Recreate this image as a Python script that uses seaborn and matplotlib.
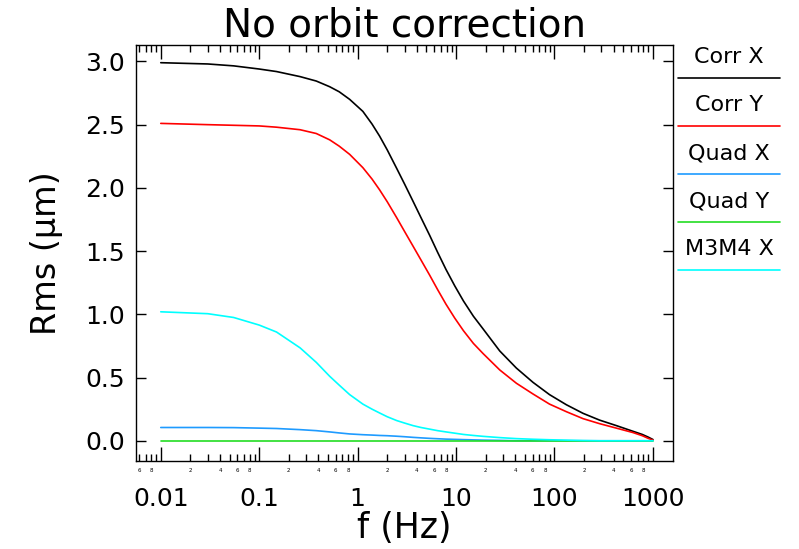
import numpy as np
import pandas as pd
import seaborn as sns
import matplotlib
matplotlib.use("Agg")
import matplotlib.pyplot as plt
from matplotlib.lines import Line2D
from matplotlib.ticker import LogLocator, FuncFormatter, FixedLocator

# ---- data ----
freq = [0.01, 0.03, 0.055, 0.1, 0.15, 0.26, 0.38, 0.52, 0.65, 0.83, 1.13, 1.4, 1.67, 2.0,
        2.49, 3.0, 3.65, 4.4, 5.39, 6.5, 7.9, 9.7, 11.9, 15, 18.8, 27.8, 41, 60.5, 89, 132,
        195, 288, 425, 627, 780, 890, 1000]
corr_x = [2.99, 2.98, 2.965, 2.94, 2.92, 2.88, 2.845, 2.80, 2.76, 2.70, 2.605, 2.505, 2.41,
          2.30, 2.155, 2.03, 1.895, 1.765, 1.625, 1.49, 1.355, 1.225, 1.105, 0.985, 0.885,
          0.71, 0.575, 0.462, 0.365, 0.285, 0.217, 0.163, 0.12, 0.075, 0.05, 0.03, 0.01]
corr_y = [2.51, 2.50, 2.495, 2.49, 2.48, 2.46, 2.43, 2.38, 2.33, 2.265, 2.16, 2.07, 1.985,
          1.89, 1.765, 1.655, 1.54, 1.43, 1.31, 1.195, 1.08, 0.97, 0.87, 0.77, 0.69, 0.56,
          0.455, 0.37, 0.29, 0.23, 0.175, 0.135, 0.10, 0.065, 0.04, 0.02, 0.005]
quad_x = [0.105, 0.105, 0.104, 0.10, 0.097, 0.088, 0.08, 0.07, 0.062, 0.054, 0.048, 0.045,
          0.042, 0.04, 0.036, 0.032, 0.027, 0.023, 0.019, 0.016, 0.013, 0.011, 0.009, 0.007,
          0.005, 0.003, 0.0, 0.0, 0.0, 0.0, 0.0, 0.0, 0.0, 0.0, 0.0, 0.0, 0.0]
quad_y = [0.0] * len(freq)
m3m4_x = [1.02, 1.005, 0.975, 0.915, 0.86, 0.735, 0.62, 0.51, 0.44, 0.365, 0.29, 0.25, 0.22,
          0.19, 0.16, 0.14, 0.12, 0.105, 0.092, 0.08, 0.07, 0.06, 0.05, 0.042, 0.035, 0.025,
          0.017, 0.012, 0.008, 0.005, 0.002, 0.0, 0.0, 0.0, 0.0, 0.0, 0.0]

series_names = ["Corr X", "Corr Y", "Quad X", "Quad Y", "M3M4 X"]
series_vals = [corr_x, corr_y, quad_x, quad_y, m3m4_x]
colors = ["#000000", "#ff0000", "#1e9bff", "#22dd22", "#00ffff"]

x_major = [0.01, 0.1, 1, 10, 100, 1000]
x_major_labels = ["0.01", "0.1", "1", "10", "100", "1000"]
y_ticks = [0.0, 0.5, 1.0, 1.5, 2.0, 2.5, 3.0]

df = pd.concat([pd.DataFrame({"f": freq, "rms": v, "series": n})
                for n, v in zip(series_names, series_vals)], ignore_index=True)

sns.set_style("white")
plt.rcParams["font.family"] = ["DejaVu Sans"]

fig = plt.figure(figsize=(7.99, 5.49), dpi=100)
ax = fig.add_axes([136 / 799, 1 - 461 / 549, (673 - 136) / 799, (461 - 45) / 549])

sns.lineplot(data=df, x="f", y="rms", hue="series", hue_order=series_names,
             palette=colors, legend=False, ax=ax, linewidth=1.2, estimator=None, sort=False)

ax.set_xscale("log")
ax.set_xlim(0.0056, 1600)
ax.set_ylim(-0.16, 3.13)

ax.xaxis.set_major_locator(FixedLocator(x_major))
ax.set_xticklabels(x_major_labels)
ax.xaxis.set_minor_locator(LogLocator(base=10, subs=np.arange(2, 10), numticks=20))


def minor_fmt(v, pos):
    m = v / 10 ** np.floor(np.log10(v) + 1e-9)
    m = int(round(m))
    return str(m) if m in (2, 4, 6, 8) else ""


ax.xaxis.set_minor_formatter(FuncFormatter(minor_fmt))
ax.set_yticks(y_ticks)
ax.set_yticklabels([f"{t:.1f}" for t in y_ticks])

for s in ax.spines.values():
    s.set_color("black")
    s.set_linewidth(1.0)

ax.tick_params(axis="x", which="major", direction="in", length=10, width=1,
               top=True, bottom=True, labelsize=18, pad=19, colors="black")
ax.tick_params(axis="x", which="minor", direction="in", length=5, width=1,
               top=True, bottom=True, labelsize=4, pad=5, colors="black")
ax.tick_params(axis="y", which="major", direction="in", length=7, width=1,
               left=True, right=True, labelsize=18, pad=8, colors="black")

ax.set_title("No orbit correction", fontsize=28, pad=4, color="black")
ax.set_xlabel("f (Hz)", fontsize=25, labelpad=0, color="black")
ax.set_ylabel("Rms (\u03bcm)", fontsize=24, labelpad=16, color="black")

# legend: label above coloured line, right of the plot
for i, (n, c) in enumerate(zip(series_names, colors)):
    ty = 57 + 48 * i
    ly = 78 + 48 * i
    fig.text(729 / 799, 1 - ty / 549, n, ha="center", va="center", fontsize=16, color="black")
    fig.add_artist(Line2D([678 / 799, 780 / 799], [1 - ly / 549, 1 - ly / 549],
                          color=c, linewidth=1.2, transform=fig.transFigure))

fig.savefig("out.png", dpi=100)
